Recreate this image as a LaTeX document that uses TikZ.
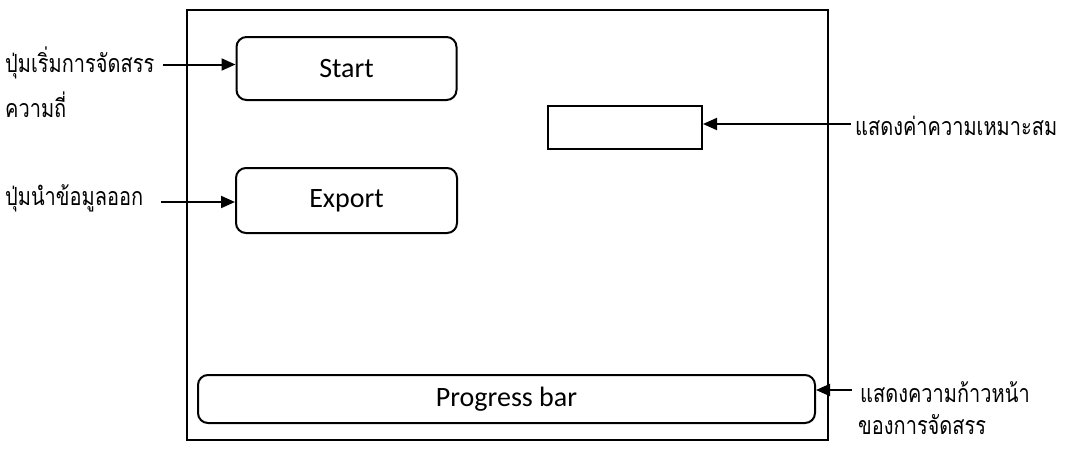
\documentclass[tikz,border=0pt]{standalone}
\usepackage{fontspec}
\setmainfont{Carlito}
\newfontfamily\thaifont[Script=Thai]{Loma}
\usetikzlibrary{arrows.meta}
\newcommand{\thl}[1]{\scalebox{1.0}[1.25]{#1}}
\tikzset{
  frame/.style={draw=black, line width=2.4pt},
  rbox/.style={draw=black, line width=2pt, rounded corners=10pt, inner sep=0pt, font=\fontsize{28}{32}\selectfont},
  sbox/.style={draw=black, line width=2pt, inner sep=0pt},
  lbl/.style={inner sep=0pt, font=\thaifont\fontsize{20}{24}\selectfont},
  arr/.style={draw=black, line width=2pt, -{Triangle[length=14pt,width=12pt]}}
}
\begin{document}
\begin{tikzpicture}[x=1pt,y=-1pt]
\useasboundingbox (0,0) rectangle (1069,448);
\fill[white] (0,0) rectangle (1069,448);
\draw[frame] (187,10) rectangle (828,440);
\node[rbox, minimum width=220pt, minimum height=63pt] (start) at (346.5,68.5) {Start};
\node[rbox, minimum width=221pt, minimum height=65pt] (export) at (346.5,200.5) {Export};
\node[sbox, minimum width=154pt, minimum height=43pt] (fit) at (625,127.5) {};
\node[rbox, minimum width=617pt, minimum height=48pt] (prog) at (506.5,399) {Progress bar};

\node[lbl, anchor=west] (l1) at (5,63) {\thl{ปุ่มเริ่มการจัดสรร}};
\node[lbl, anchor=west] (l1b) at (5,105) {\thl{ความถี่}};
\node[lbl, anchor=west] (l2) at (5,198) {\thl{ปุ่มนำข้อมูลออก}};
\node[lbl, anchor=west] (r1) at (855,126) {\thl{แสดงค่าความเหมาะสม}};
\node[lbl, anchor=west] (r2) at (860,392) {\thl{แสดงความก้าวหน้า}};
\node[lbl, anchor=west] (r2b) at (858,425) {\thl{ของการจัดสรร}};

\coordinate (c1) at (163,64.5);
\coordinate (c2) at (161,202);
\coordinate (c3) at (851,124);
\coordinate (c4) at (852,390);
\draw[arr] (c1) -- (c1 -| start.west);
\draw[arr] (c2) -- (c2 -| export.west);
\draw[arr] (c3) -- (c3 -| fit.east);
\draw[arr] (c4) -- (c4 -| prog.east);
\end{tikzpicture}
\end{document}
